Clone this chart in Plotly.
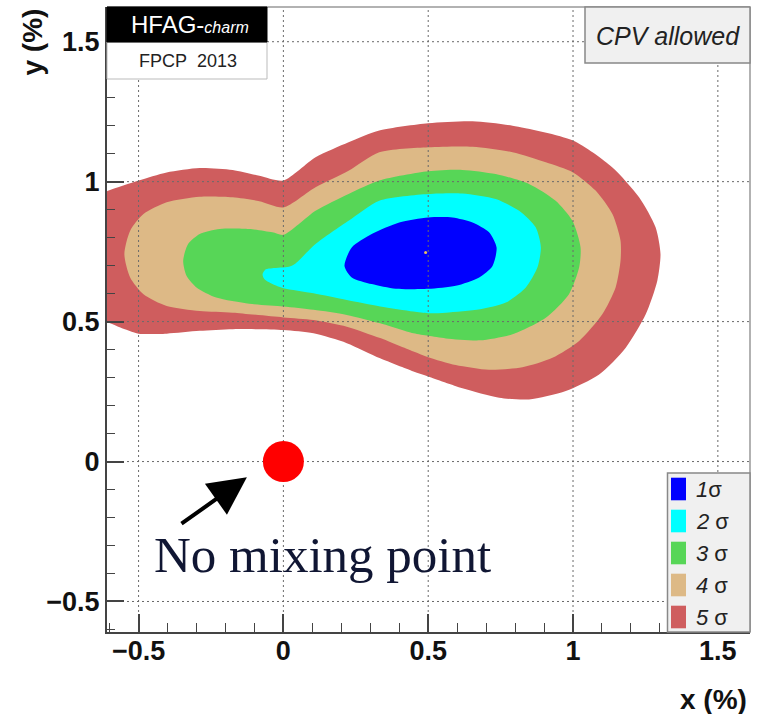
import plotly.graph_objects as go

# ---------------------------------------------------------------------------
# Confidence-level contours in the (x, y) plane of D0 mixing, CPV allowed.
# Each region is an outline of (x, y) vertices in percent.
# ---------------------------------------------------------------------------
sig5_x = [-0.66, -0.603, -0.5, -0.403, -0.289, -0.175, -0.083, 0.0, 0.111, 0.225,
          0.331, 0.5, 0.653, 0.791, 1.0, 1.136, 1.228, 1.285, 1.302, 1.291,
          1.251, 1.182, 1.090, 0.975, 0.848, 0.745, 0.618, 0.5, 0.449, 0.334,
          0.219, 0.104, 0.0, -0.175, -0.289, -0.403, -0.5, -0.563, -0.603, -0.66]
sig5_y = [0.94, 0.968, 1.004, 1.033, 1.049, 1.042, 1.021, 1.004, 1.087, 1.141,
          1.183, 1.209, 1.216, 1.200, 1.147, 1.051, 0.944, 0.837, 0.741, 0.646,
          0.526, 0.407, 0.311, 0.252, 0.222, 0.228, 0.262, 0.304, 0.322, 0.369,
          0.423, 0.458, 0.470, 0.473, 0.467, 0.457, 0.457, 0.479, 0.496, 0.51]

sig4_x = [-0.549, -0.529, -0.483, -0.403, -0.289, -0.175, -0.083, 0.0, 0.111, 0.225,
          0.331, 0.5, 0.653, 0.791, 0.906, 1.0, 1.078, 1.136, 1.164, 1.164,
          1.147, 1.101, 1.021, 0.929, 0.825, 0.710, 0.595, 0.5, 0.449, 0.334,
          0.219, 0.104, 0.0, -0.175, -0.289, -0.403, -0.483, -0.529]
sig4_y = [0.741, 0.825, 0.884, 0.926, 0.946, 0.944, 0.930, 0.908, 0.980, 1.039,
          1.105, 1.123, 1.125, 1.105, 1.069, 1.033, 0.968, 0.884, 0.789, 0.717,
          0.622, 0.526, 0.431, 0.371, 0.337, 0.328, 0.345, 0.373, 0.393, 0.441,
          0.482, 0.506, 0.515, 0.532, 0.538, 0.556, 0.598, 0.658]

sig3_x = [-0.346, -0.329, -0.289, -0.220, -0.118, -0.038, 0.0, 0.111, 0.225, 0.331,
          0.5, 0.618, 0.733, 0.848, 0.940, 0.998, 1.026, 1.021, 0.986, 0.906,
          0.791, 0.679, 0.561, 0.5, 0.449, 0.334, 0.219, 0.104, 0.0, -0.118,
          -0.232, -0.300, -0.334]
sig3_y = [0.717, 0.777, 0.813, 0.831, 0.831, 0.819, 0.810, 0.896, 0.956, 1.004,
          1.037, 1.042, 1.027, 0.992, 0.932, 0.860, 0.765, 0.693, 0.598, 0.514,
          0.455, 0.433, 0.440, 0.449, 0.458, 0.494, 0.524, 0.542, 0.554, 0.564,
          0.586, 0.622, 0.663]

sig2_x = [-0.072, -0.061, -0.038, 0.019, 0.042, 0.111, 0.225, 0.331, 0.5, 0.618,
          0.733, 0.814, 0.871, 0.889, 0.877, 0.837, 0.768, 0.679, 0.561, 0.5,
          0.449, 0.334, 0.219, 0.104, 0.0, -0.038, -0.066]
sig2_y = [0.669, 0.687, 0.691, 0.696, 0.708, 0.777, 0.860, 0.932, 0.956, 0.958,
          0.938, 0.896, 0.837, 0.765, 0.693, 0.622, 0.568, 0.544, 0.532, 0.530,
          0.536, 0.554, 0.577, 0.601, 0.619, 0.634, 0.652]

sig1_x = [0.211, 0.236, 0.305, 0.400, 0.5, 0.584, 0.653, 0.710, 0.736, 0.722,
          0.676, 0.595, 0.5, 0.388, 0.305, 0.236]
sig1_y = [0.699, 0.765, 0.813, 0.854, 0.872, 0.872, 0.854, 0.819, 0.765, 0.699,
          0.658, 0.628, 0.617, 0.617, 0.634, 0.658]

best_fit_x = [0.491]
best_fit_y = [0.747]

no_mixing_x = [0.0]
no_mixing_y = [0.0]

levels = ["1σ", "2 σ", "3 σ", "4 σ", "5 σ"]
level_colors = ["#0000ff", "#00ffff", "#57d657", "#ddb986", "#cf5d5e"]

x_tickvals = [-0.5, 0, 0.5, 1, 1.5]
x_ticktext = ["\u22120.5", "0", "0.5", "1", "1.5"]
y_tickvals = [-0.5, 0, 0.5, 1, 1.5]
y_ticktext = ["\u22120.5", "0", "0.5", "1", "1.5"]

x_range = [-0.609, 1.611]
y_range = [-0.609, 1.624]

# ---------------------------------------------------------------------------
W, H = 758, 714
ML, MR, MT, MB = 107, 8, 7, 82
PW, PH = W - ML - MR, H - MT - MB


def fx(p):
    """Canvas pixel column -> paper x."""
    return (p - ML) / PW


def fy(p):
    """Canvas pixel row -> paper y."""
    return (H - MB - p) / PH


fig = go.Figure()

outlines = [(sig5_x, sig5_y), (sig4_x, sig4_y), (sig3_x, sig3_y),
            (sig2_x, sig2_y), (sig1_x, sig1_y)]
for i, (xs, ys) in enumerate(outlines):
    lvl = 4 - i
    fig.add_trace(go.Scatter(
        x=xs + xs[:1], y=ys + ys[:1], mode="lines", fill="toself",
        fillcolor=level_colors[lvl], line=dict(width=0, shape="spline", smoothing=0.7),
        name=levels[lvl], showlegend=False, hoverinfo="skip"))

fig.add_trace(go.Scatter(x=best_fit_x, y=best_fit_y, mode="markers",
                         marker=dict(size=3, color="#e8c060"),
                         showlegend=False, hoverinfo="skip"))

# dotted grid drawn over the filled regions
gx, gy = [], []
for v in x_tickvals:
    gx += [v, v, None]
    gy += [y_range[0], y_range[1], None]
for v in y_tickvals:
    gx += [x_range[0], x_range[1], None]
    gy += [v, v, None]
fig.add_trace(go.Scatter(x=gx, y=gy, mode="lines",
                         line=dict(color="#6a6a6a", width=1, dash="2px,3px"),
                         showlegend=False, hoverinfo="skip"))

fig.add_trace(go.Scatter(x=no_mixing_x, y=no_mixing_y, mode="markers",
                         marker=dict(size=41, color="#ff0000"),
                         showlegend=False, hoverinfo="skip"))

axis_font = dict(family="Liberation Sans", size=27, color="#111", weight="bold")
fig.update_xaxes(range=x_range, tickmode="array", tickvals=x_tickvals, ticktext=x_ticktext,
                 showgrid=False, zeroline=False, showline=True, linecolor="#444", linewidth=2,
                 ticks="inside", ticklen=18, tickwidth=1.5, tickcolor="#444",
                 tickfont=axis_font, ticklabelstandoff=-6, layer="above traces",
                 minor=dict(tickmode="linear", tick0=0, dtick=0.1, ticks="inside",
                            ticklen=9, tickwidth=1.2, tickcolor="#444", showgrid=False))
fig.update_yaxes(range=y_range, tickmode="array", tickvals=y_tickvals, ticktext=y_ticktext,
                 showgrid=False, zeroline=False, showline=True, linecolor="#444", linewidth=2,
                 ticks="inside", ticklen=17, tickwidth=1.5, tickcolor="#444",
                 tickfont=axis_font, ticklabelstandoff=0, layer="above traces",
                 minor=dict(tickmode="linear", tick0=0, dtick=0.1, ticks="inside",
                            ticklen=8, tickwidth=1.2, tickcolor="#444", showgrid=False))

shapes = [
    # top and right edges of the frame
    dict(type="line", xref="paper", yref="paper", x0=0, x1=1, y0=1, y1=1,
         line=dict(color="#999", width=1.5)),
    dict(type="line", xref="paper", yref="paper", x0=1, x1=1, y0=0, y1=1,
         line=dict(color="#999", width=1.5)),
    # HFAG banner
    dict(type="rect", xref="paper", yref="paper", x0=fx(107), x1=fx(267), y0=fy(79), y1=fy(42),
         fillcolor="white", line=dict(color="#bbb", width=1)),
    dict(type="rect", xref="paper", yref="paper", x0=fx(107), x1=fx(267), y0=fy(42), y1=fy(7),
         fillcolor="black", line=dict(color="black", width=1)),
    # CPV label box
    dict(type="rect", xref="paper", yref="paper", x0=fx(585), x1=fx(750), y0=fy(63), y1=fy(7),
         fillcolor="#f0f0f0", line=dict(color="#888", width=1.5)),
    # legend box
    dict(type="rect", xref="paper", yref="paper", x0=fx(667.5), x1=fx(750), y0=fy(632), y1=fy(473),
         fillcolor="#f0f0f0", line=dict(color="#888", width=1.5)),
]
annotations = [
    dict(text="HFAG-<i><span style='font-size:16px'>charm</span></i>", xref="paper", yref="paper",
         x=fx(190), y=fy(24), showarrow=False, xanchor="center", yanchor="middle",
         font=dict(family="Liberation Sans", size=24, color="white")),
    dict(text="FPCP\u00a0\u00a02013", xref="paper", yref="paper",
         x=fx(188), y=fy(60.5), showarrow=False, xanchor="center", yanchor="middle",
         font=dict(family="Liberation Sans", size=18, color="#222")),
    dict(text="<i>CPV allowed</i>", xref="paper", yref="paper",
         x=fx(667.5), y=fy(36), showarrow=False, xanchor="center", yanchor="middle",
         font=dict(family="Liberation Sans", size=25, color="#222")),
    dict(text="x (%)", xref="paper", yref="paper", x=fx(749), y=fy(699), showarrow=False,
         xanchor="right", yanchor="middle",
         font=dict(family="Liberation Sans", size=28, color="#111", weight="bold")),
    dict(text="y (%)", xref="paper", yref="paper", x=fx(32), y=fy(7), showarrow=False,
         textangle=-90, xanchor="center", yanchor="top",
         font=dict(family="Liberation Sans", size=28, color="#111", weight="bold")),
    dict(text="No mixing point", xref="x", yref="y", x=-0.452, y=-0.335, showarrow=False,
         xanchor="left", yanchor="middle",
         font=dict(family="Liberation Serif", size=51, color="#101633")),
    dict(text="", xref="x", yref="y", x=-0.126, y=-0.056, ax=-0.357, ay=-0.226,
         axref="x", ayref="y", showarrow=True, arrowhead=2, arrowsize=1.9,
         arrowwidth=4, arrowcolor="black", standoff=0),
]

# legend swatches and labels
row_centres = [489, 521, 553, 585, 617]
for lvl, yc in enumerate(row_centres):
    shapes.append(dict(type="rect", xref="paper", yref="paper", x0=fx(671), x1=fx(686),
                       y0=fy(yc + 11.3), y1=fy(yc - 11.3), fillcolor=level_colors[lvl],
                       line=dict(width=0)))
    annotations.append(dict(text="<i>" + levels[lvl][0] + "</i>" + levels[lvl][1:],
                            xref="paper", yref="paper", x=fx(694), y=fy(yc),
                            showarrow=False, xanchor="left", yanchor="middle",
                            font=dict(family="Liberation Sans", size=22, color="#222")))

fig.update_layout(width=W, height=H, margin=dict(l=ML, r=MR, t=MT, b=MB),
                  paper_bgcolor="white", plot_bgcolor="white",
                  shapes=shapes, annotations=annotations, showlegend=False)

fig.write_html("out.html")
